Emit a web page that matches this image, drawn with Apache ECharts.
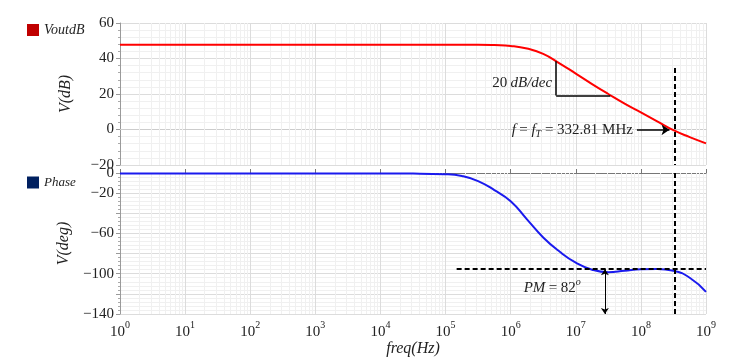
<!DOCTYPE html>
<html>
<head>
<meta charset="utf-8">
<script src="https://cdn.jsdelivr.net/npm/echarts@6/dist/echarts.min.js"></script>
<style>
html, body { margin: 0; padding: 0; background: #fff; }
#chart { width: 736px; height: 361px; }
</style>
</head>
<body>
<div id="chart"></div>
<script>
// frequency points in Hz (quarter decades in the transition region)
const freq = [1, 10, 100, 1e3, 1e4, 3.16e4, 1e5, 1.78e5, 3.16e5, 5.62e5,
  1e6, 1.78e6, 3.16e6, 5.62e6, 1e7, 1.78e7, 3.16e7, 5.62e7,
  1e8, 1.78e8, 3.16e8, 5.62e8, 1e9];
// gain in dB
const voutdB = [47.8, 47.8, 47.8, 47.8, 47.8, 47.8, 47.8, 47.8, 47.8, 47.6,
  47.1, 45.6, 42.6, 37.3, 31.5, 25.6, 20.0, 14.6,
  9.6, 4.6, -0.4, -4.3, -7.8];
// phase in degrees
const phase = [-0.5, -0.5, -0.5, -0.5, -0.5, -0.6, -1.2, -3, -8, -17,
  -28, -46, -64, -78, -89, -96, -98.5, -97,
  -95.5, -95.2, -97, -104, -118];

const fT = 332.81e6;
const pmLevel = -95.5;
const decades = [1, 10, 100, 1e3, 1e4, 1e5, 1e6, 1e7, 1e8];
const minorMult = [2, 3, 4, 5, 6, 7, 8, 9];

const serif = 'Liberation Serif';
const gridColor = '#dcdcdc';
const minorColor = '#f0f0f0';
const axisColor = '#9a9a9a';

// faint log minor grid (2..9 x 10^n)
function minorLines(yMin, yMax) {
  const out = [];
  decades.forEach(d => {
    minorMult.forEach(m => {
      out.push([{ coord: [d * m, yMax] }, { coord: [d * m, yMin] }]);
    });
  });
  return out;
}

const dash = { type: [5, 3], color: '#000', width: 2 };
const solid = { type: 'solid', color: '#000', width: 1.5 };
const minus = v => String(v).replace('-', '\u2212');

function yAxisBase(min, max, name, idx) {
  return {
    type: 'value', gridIndex: idx, min: min, max: max, interval: 20,
    name: name, nameLocation: 'middle', nameGap: 46,
    nameTextStyle: { fontFamily: serif, fontStyle: 'italic', fontSize: 16, color: '#222' },
    axisLine: { show: true, lineStyle: { color: axisColor } },
    axisTick: { show: true, length: 4, lineStyle: { color: axisColor } },
    minorTick: { show: true, splitNumber: 5, length: 2, lineStyle: { color: '#aaa' } },
    splitLine: { show: true, lineStyle: { color: gridColor } },
    minorSplitLine: { show: true, lineStyle: { color: minorColor } },
    axisLabel: { fontFamily: serif, fontSize: 15, color: '#222', margin: 6, formatter: minus }
  };
}

const chart = echarts.init(document.getElementById('chart'));

chart.setOption({
  animation: false,
  backgroundColor: '#fff',
  legend: [{
    data: [{ name: 'VoutdB', itemStyle: { color: '#c00000' } }],
    left: 22, top: 18, icon: 'rect', itemWidth: 12, itemHeight: 12,
    selectedMode: false,
    textStyle: { fontFamily: serif, fontStyle: 'italic', fontSize: 14, color: '#222' }
  }, {
    data: [{ name: 'Phase', itemStyle: { color: '#002060' } }],
    left: 22, top: 171, icon: 'rect', itemWidth: 12, itemHeight: 12,
    selectedMode: false,
    textStyle: { fontFamily: serif, fontStyle: 'italic', fontSize: 13, color: '#222' }
  }],
  grid: [
    { left: 120, right: 30, top: 23, height: 142 },
    { left: 120, right: 30, top: 173, height: 141 }
  ],
  xAxis: [{
    type: 'log', logBase: 10, min: 1, max: 1e9, gridIndex: 0,
    axisLine: { show: true, lineStyle: { color: '#cccccc' } },
    axisTick: { show: false },
    axisLabel: { show: false },
    splitLine: { show: true, lineStyle: { color: gridColor } }
  }, {
    type: 'log', logBase: 10, min: 1, max: 1e9, gridIndex: 1,
    name: 'freq(Hz)', nameLocation: 'middle', nameGap: 26,
    nameTextStyle: { fontFamily: serif, fontStyle: 'italic', fontSize: 16, color: '#222' },
    axisLine: { show: true, lineStyle: { color: '#777' } },
    axisTick: { show: true, inside: true, length: 4, lineStyle: { color: '#777' } },
    splitLine: { show: true, lineStyle: { color: gridColor } },
    axisLabel: {
      margin: 6,
      formatter: v => '{b|10}{s|' + Math.round(Math.log10(v)) + '}',
      rich: {
        b: { fontFamily: serif, fontSize: 15, color: '#222', lineHeight: 20, verticalAlign: 'bottom' },
        s: { fontFamily: serif, fontSize: 10, color: '#222', lineHeight: 11, verticalAlign: 'top' }
      }
    }
  }],
  yAxis: [
    yAxisBase(-20, 60, 'V(dB)', 0),
    Object.assign(yAxisBase(-140, 0, 'V(deg)', 1), {
      axisLabel: {
        fontFamily: serif, fontSize: 15, color: '#222', margin: 6,
        formatter: v => ([-40, -80, -120].indexOf(v) >= 0 ? '' : minus(v))
      }
    })
  ],
  series: [{
    name: 'minorTop', type: 'line', xAxisIndex: 0, yAxisIndex: 0, data: [], z: 1,
    silent: true,
    markLine: {
      z: 1, silent: true, symbol: 'none', label: { show: false },
      lineStyle: { color: minorColor, type: 'solid', width: 1 },
      data: minorLines(-20, 60)
    }
  }, {
    name: 'minorBottom', type: 'line', xAxisIndex: 1, yAxisIndex: 1, data: [], z: 1,
    silent: true,
    markLine: {
      z: 1, silent: true, symbol: 'none', label: { show: false },
      lineStyle: { color: minorColor, type: 'solid', width: 1 },
      data: minorLines(-140, 0)
    }
  }, {
    name: 'VoutdB', type: 'line', xAxisIndex: 0, yAxisIndex: 0, z: 3,
    data: freq.map((f, i) => [f, voutdB[i]]),
    showSymbol: false, smooth: true,
    lineStyle: { color: '#ff0000', width: 2 },
    itemStyle: { color: '#ff0000' },
    markLine: {
      silent: true, symbol: 'none', label: { show: false },
      data: [
        [{ coord: [fT, 34.7], lineStyle: dash }, { coord: [fT, -20] }],
        [{ coord: [5.0e6, 38.4], lineStyle: solid }, { coord: [5.0e6, 19.2] }],
        [{ coord: [5.0e6, 19.2], lineStyle: solid }, { coord: [3.39e7, 19.2] }],
        [{ coord: [8.7e7, -0.2], lineStyle: solid, symbol: 'none' },
         { coord: [2.75e8, -0.2], symbol: 'arrow', symbolSize: 8 }]
      ]
    },
    markPoint: {
      silent: true, symbol: 'circle', symbolSize: 0,
      itemStyle: { color: 'rgba(0,0,0,0)' },
      data: [{
        coord: [5.0e6, 26.2],
        label: {
          show: true, position: 'left', distance: 4,
          formatter: '{n|20} {i|dB/dec}',
          rich: {
            n: { fontFamily: serif, fontSize: 15, color: '#222' },
            i: { fontFamily: serif, fontStyle: 'italic', fontSize: 15, color: '#222' }
          }
        }
      }, {
        coord: [8.7e7, -0.2],
        label: {
          show: true, position: 'left', distance: 4,
          formatter: '{i|f} {n|= }{i|f}{t|T}{n| = 332.81 MHz}',
          rich: {
            n: { fontFamily: serif, fontSize: 15, color: '#222', lineHeight: 20, verticalAlign: 'middle' },
            i: { fontFamily: serif, fontStyle: 'italic', fontSize: 15, color: '#222', lineHeight: 20, verticalAlign: 'middle' },
            t: { fontFamily: serif, fontStyle: 'italic', fontSize: 10, color: '#222', lineHeight: 12, verticalAlign: 'bottom' }
          }
        }
      }]
    }
  }, {
    name: 'Phase', type: 'line', xAxisIndex: 1, yAxisIndex: 1, z: 3,
    data: freq.map((f, i) => [f, phase[i]]),
    showSymbol: false, smooth: true,
    lineStyle: { color: '#1a1aee', width: 2 },
    itemStyle: { color: '#1a1aee' },
    markLine: {
      silent: true, symbol: 'none', label: { show: false },
      data: [
        [{ coord: [fT, 0], lineStyle: dash }, { coord: [fT, -140] }],
        [{ coord: [1.48e5, pmLevel], lineStyle: dash }, { coord: [1e9, pmLevel] }],
        [{ coord: [2.8e7, pmLevel], lineStyle: { type: 'solid', color: '#000', width: 1 }, symbol: 'arrow', symbolSize: 6 },
         { coord: [2.8e7, -140], symbol: 'arrow', symbolSize: 6 }]
      ]
    },
    markPoint: {
      silent: true, symbol: 'circle', symbolSize: 0,
      itemStyle: { color: 'rgba(0,0,0,0)' },
      data: [{
        coord: [4.35e6, -114],
        label: {
          show: true, position: 'inside',
          formatter: '{i|PM} {n|= 82}{s|o}',
          rich: {
            n: { fontFamily: serif, fontSize: 15, color: '#222', lineHeight: 20, verticalAlign: 'middle' },
            i: { fontFamily: serif, fontStyle: 'italic', fontSize: 15, color: '#222', lineHeight: 20, verticalAlign: 'middle' },
            s: { fontFamily: serif, fontStyle: 'italic', fontSize: 10, color: '#222', lineHeight: 12, verticalAlign: 'top' }
          }
        }
      }]
    }
  }]
});
</script>
</body>
</html>
